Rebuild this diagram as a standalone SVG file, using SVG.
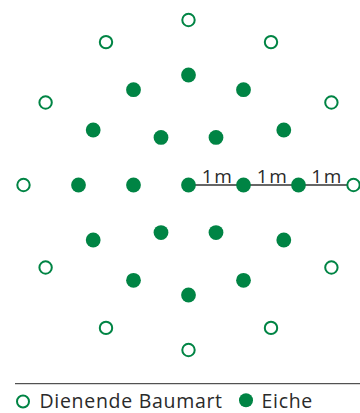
<svg xmlns="http://www.w3.org/2000/svg" width="360" height="413" viewBox="0 0 360 413">
  <style>
    .oak { fill: #008444; }
    .nurse { fill: #ffffff; stroke: #008444; stroke-width: 2; }
    .lbl { font-family: "Open Sans", "Liberation Sans", sans-serif; fill: #2a2a2a; }
    .dim { stroke: #333333; stroke-width: 1.3; fill: none; }
  </style>
  <rect width="360" height="413" fill="#ffffff"/>

  <!-- measurement line, 1 m = 55 px -->
  <g id="connectors">
    <line class="dim" x1="188.5" y1="185" x2="352.5" y2="185"/>
  </g>
  <g id="scale-labels" class="lbl" font-size="19" text-anchor="middle" letter-spacing="1.5">
    <text x="217.5" y="182.5">1m</text>
    <text x="272.5" y="182.5">1m</text>
    <text x="327" y="182.5">1m</text>
  </g>

  <!-- oaks: centre, inner ring (r=55, 6 points), middle ring (r=110, 12 points) -->
  <g id="oaks">
    <circle id="oak-c" class="oak" cx="188.5" cy="185" r="7.4"/>
    <g id="oak-ring1">
      <circle class="oak" cx="243.5" cy="185" r="7.4"/>
      <circle class="oak" cx="216" cy="137.4" r="7.4"/>
      <circle class="oak" cx="161" cy="137.4" r="7.4"/>
      <circle class="oak" cx="133.5" cy="185" r="7.4"/>
      <circle class="oak" cx="161" cy="232.6" r="7.4"/>
      <circle class="oak" cx="216" cy="232.6" r="7.4"/>
    </g>
    <g id="oak-ring2">
      <circle class="oak" cx="298.5" cy="185" r="7.4"/>
      <circle class="oak" cx="283.8" cy="130" r="7.4"/>
      <circle class="oak" cx="243.5" cy="89.7" r="7.4"/>
      <circle class="oak" cx="188.5" cy="75" r="7.4"/>
      <circle class="oak" cx="133.5" cy="89.7" r="7.4"/>
      <circle class="oak" cx="93.2" cy="130" r="7.4"/>
      <circle class="oak" cx="78.5" cy="185" r="7.4"/>
      <circle class="oak" cx="93.2" cy="240" r="7.4"/>
      <circle class="oak" cx="133.5" cy="280.3" r="7.4"/>
      <circle class="oak" cx="188.5" cy="295" r="7.4"/>
      <circle class="oak" cx="243.5" cy="280.3" r="7.4"/>
      <circle class="oak" cx="283.8" cy="240" r="7.4"/>
    </g>
  </g>

  <!-- nurse trees: outer ring (r=165, 12 points) -->
  <g id="nurse-ring">
    <circle class="nurse" cx="353.5" cy="185" r="6.2"/>
    <circle class="nurse" cx="331.4" cy="102.5" r="6.2"/>
    <circle class="nurse" cx="271" cy="42.1" r="6.2"/>
    <circle class="nurse" cx="188.5" cy="20" r="6.2"/>
    <circle class="nurse" cx="106" cy="42.1" r="6.2"/>
    <circle class="nurse" cx="45.6" cy="102.5" r="6.2"/>
    <circle class="nurse" cx="23.5" cy="185" r="6.2"/>
    <circle class="nurse" cx="45.6" cy="267.5" r="6.2"/>
    <circle class="nurse" cx="106" cy="327.9" r="6.2"/>
    <circle class="nurse" cx="188.5" cy="350" r="6.2"/>
    <circle class="nurse" cx="271" cy="327.9" r="6.2"/>
    <circle class="nurse" cx="331.4" cy="267.5" r="6.2"/>
  </g>

  <!-- legend -->
  <g id="legend">
    <line x1="15" y1="383.7" x2="360" y2="383.7" stroke="#2a2a2a" stroke-width="1"/>
    <circle class="nurse" cx="23" cy="401.5" r="6"/>
    <text class="lbl" x="39.5" y="407.5" font-size="19.5" letter-spacing="0.7">Dienende Baumart</text>
    <circle class="oak" cx="246" cy="400.2" r="7"/>
    <text class="lbl" x="261.5" y="407.5" font-size="19.5" letter-spacing="0.7">Eiche</text>
  </g>
</svg>
